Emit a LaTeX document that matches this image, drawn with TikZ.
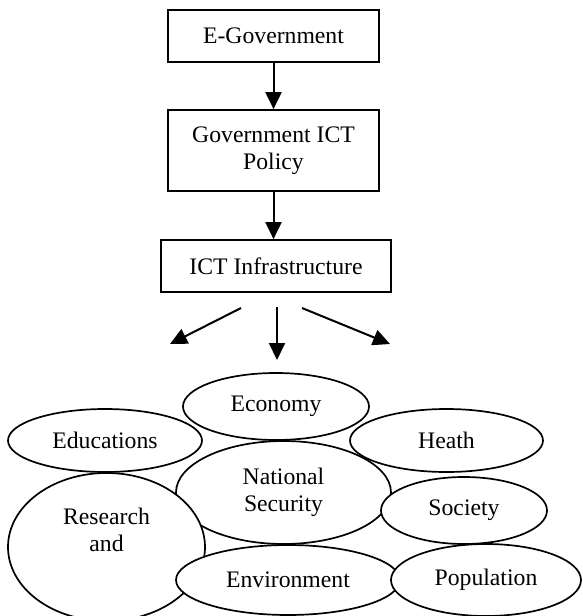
\documentclass[tikz,border=0pt]{standalone}
\usepackage{fontspec}
\setmainfont{Liberation Serif}
\usetikzlibrary{shapes.geometric,arrows.meta}

\begin{document}
\begin{tikzpicture}[x=1pt,y=-1pt,
    font=\fontsize{23.7}{27}\selectfont,
    box/.style={draw,line width=1.7pt,inner sep=0pt,align=center},
    area/.style={draw,ellipse,fill=white,line width=1.7pt,inner sep=0pt,align=center},
    flow/.style={-{Triangle[length=17pt,width=16pt]},line width=2pt}]
    \useasboundingbox (0,0) rectangle (582,616);
    \clip (0,0) rectangle (582,616);

    % Policy chain
    \node[box,minimum width=211pt,minimum height=52pt] (egov) at (273.5,36) {E-Government};
    \node[box,minimum width=211pt,minimum height=81pt] (policy) at (273.5,150.5) {Government ICT\\Policy};
    \node[box,minimum width=230pt,minimum height=52pt] (infra) at (276,266) {ICT Infrastructure};

    \draw[flow] (egov.south) -- (policy.north);
    \draw[flow] (policy.south) -- (policy.south |- infra.north);

    % Fan out below the infrastructure
    \coordinate (leftstart) at (241,308);
    \coordinate (leftend) at (170,344);
    \coordinate (midstart) at (277,307);
    \coordinate (midend) at (277,360);
    \coordinate (rightstart) at (302,308);
    \coordinate (rightend) at (390,344);
    \draw[flow] (leftstart) -- (leftend);
    \draw[flow] (midstart) -- (midend);
    \draw[flow] (rightstart) -- (rightend);

    % Sectors
    \node[area,minimum width=186pt,minimum height=67pt] (economy) at (276,406.5) {Economy};
    \node[area,minimum width=194pt,minimum height=63pt] (edu) at (105,440.5) {Educations};
    \node[area,minimum width=193pt,minimum height=63pt] (heath) at (446.5,440.5) {Heath};
    \node[area,minimum width=215pt,minimum height=103pt] (security) at (283.5,492.5) {National\\Security};
    \node[area,minimum width=166pt,minimum height=67pt] (society) at (464,510.5) {Society};
    \node[area,minimum width=197pt,minimum height=148pt] (research) at (106.5,547) {Research\\and\\\strut};
    \node[area,minimum width=224pt,minimum height=70pt] (environment) at (288,580) {Environment};
    \node[area,minimum width=190pt,minimum height=72pt] (population) at (486,580) {Population};
\end{tikzpicture}
\end{document}
